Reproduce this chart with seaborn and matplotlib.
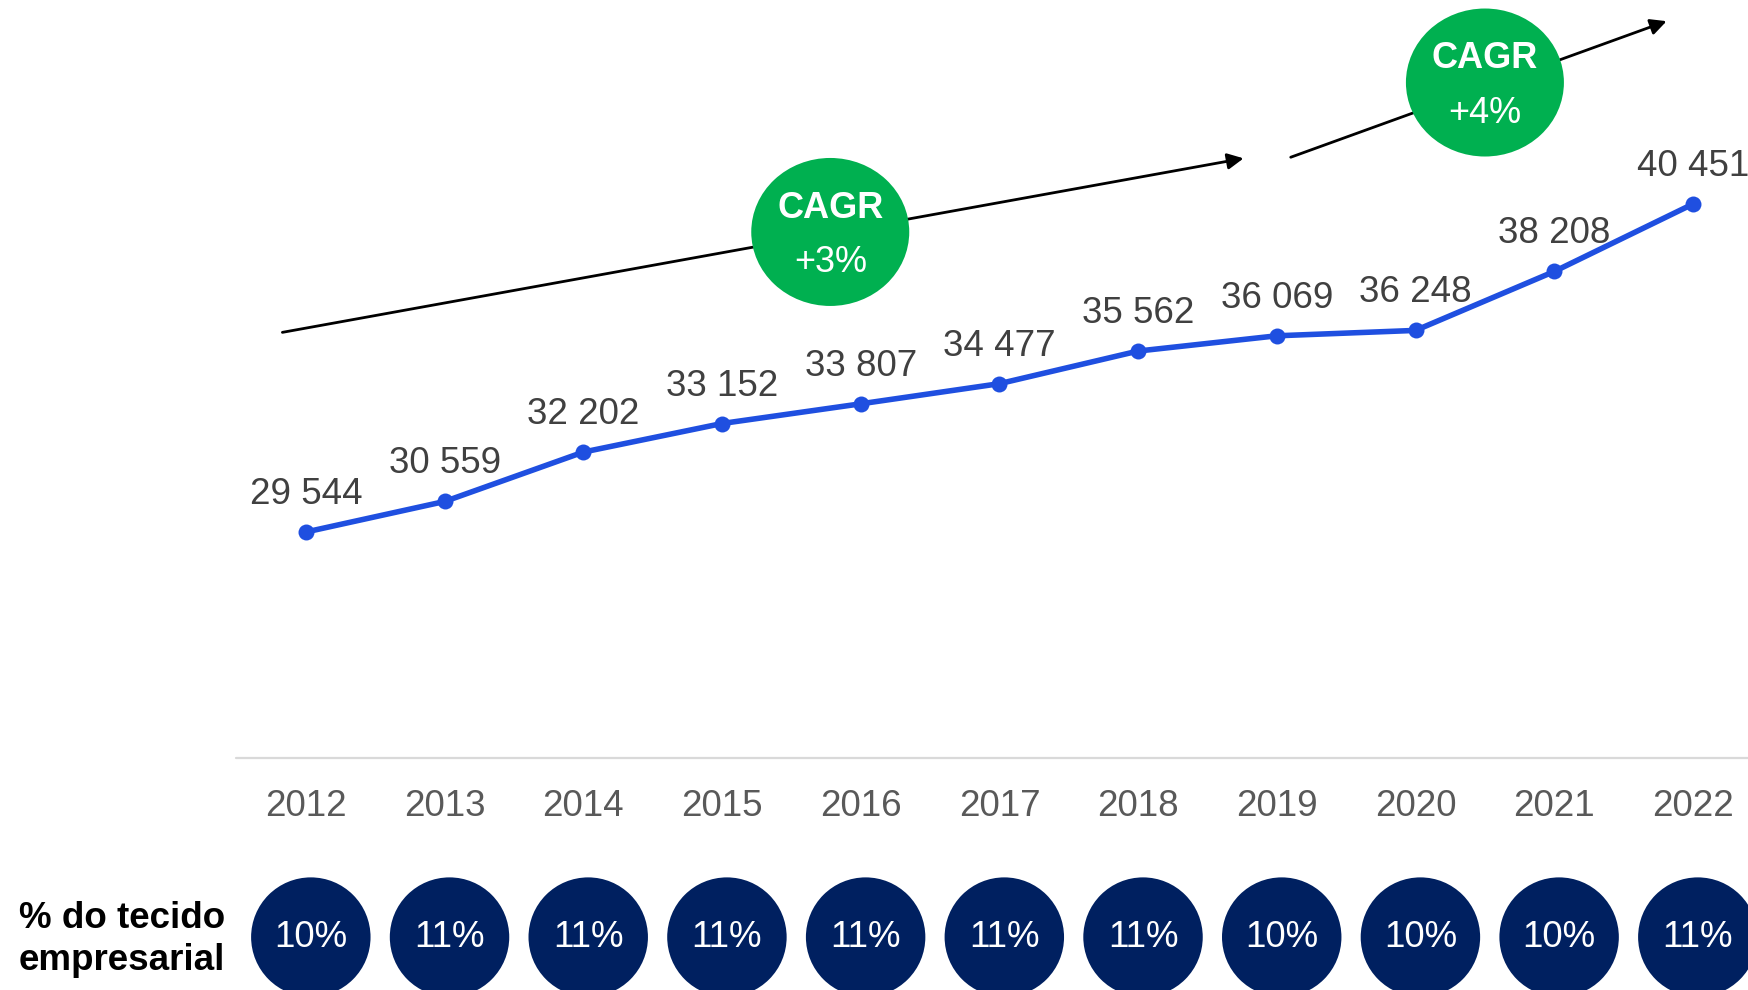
import pandas as pd
import matplotlib
matplotlib.use("Agg")
import matplotlib.pyplot as plt
import matplotlib.transforms as mtransforms
from matplotlib.patches import Ellipse
import seaborn as sns

# ----------------------------------------------------------
# Données
# ----------------------------------------------------------

years = [2012, 2013, 2014, 2015, 2016, 2017, 2018, 2019, 2020, 2021, 2022]
empresas = [29544, 30559, 32202, 33152, 33807, 34477, 35562, 36069, 36248, 38208, 40451]
pct_tecido = [10, 11, 11, 11, 11, 11, 11, 10, 10, 10, 11]

cagr_labels = ["+3%", "+4%"]

df = pd.DataFrame({"ano": years, "empresas": empresas, "pct": pct_tecido})

# ----------------------------------------------------------
# Style
# ----------------------------------------------------------

sns.set_theme(style="white")
plt.rcParams["font.family"] = ["Liberation Sans", "DejaVu Sans"]

BLUE = "#1f4fe0"
GREEN = "#00b050"
NAVY = "#002060"
FS = 26.5

W, H = 1749, 990
fig = plt.figure(figsize=(W / 100, H / 100), dpi=100)

axis_px = 758
ax = fig.add_axes([0, 1 - axis_px / H, 1, axis_px / H])
ax2 = fig.add_axes([0, 0, 1, 1 - axis_px / H], sharex=ax)

# ----------------------------------------------------------
# Courbe
# ----------------------------------------------------------

sns.lineplot(data=df, x="ano", y="empresas", ax=ax, color=BLUE,
             linewidth=4, marker="o", markersize=11.5,
             markeredgewidth=0, zorder=3)

ax.set_xlim(2009.794, 2022.404)
ax.set_ylim(22028, 47236)

for x, y in zip(df["ano"], df["empresas"]):
    ax.annotate(f"{y:,}".replace(",", " "), (x, y), xytext=(0, 27),
                textcoords="offset points", ha="center", va="center",
                fontsize=FS, color="#404040", annotation_clip=False)

# axe horizontal
ax.axhline(22028, xmin=236 / W, xmax=1, color="#d9d9d9", lw=1.6,
           clip_on=False)

for x in years:
    ax.annotate(str(x), (x, 0), xycoords=("data", "axes fraction"),
                xytext=(0, -35), textcoords="offset points",
                ha="center", va="center", fontsize=FS, color="#595959",
                annotation_clip=False)

ax.axis("off")

# ----------------------------------------------------------
# Flèches CAGR
# ----------------------------------------------------------

ax.annotate("", xy=(2018.76, 41970), xytext=(2011.83, 36183),
            arrowprops=dict(arrowstyle="-|>", color="black", lw=2,
                            mutation_scale=24, shrinkA=0, shrinkB=0),
            zorder=1, annotation_clip=False)
ax.annotate("", xy=(2021.81, 46532), xytext=(2019.10, 42007),
            arrowprops=dict(arrowstyle="-|>", color="black", lw=2,
                            mutation_scale=24, shrinkA=0, shrinkB=0),
            zorder=1, annotation_clip=False)

badges = [(2015.78, 39522), (2020.50, 44492)]
for (bx, by), lab in zip(badges, cagr_labels):
    cx, cy = ax.transData.transform((bx, by))
    e = Ellipse((cx, cy), width=158, height=148, facecolor=GREEN,
                edgecolor="none", zorder=4,
                transform=mtransforms.IdentityTransform(), clip_on=False)
    ax.add_artist(e)
    ax.annotate("CAGR", (bx, by), xytext=(0, 17), textcoords="offset points",
                ha="center", va="center", fontsize=FS - 0.5,
                fontweight="bold", color="white", zorder=5,
                annotation_clip=False)
    ax.annotate(lab, (bx, by), xytext=(0, -22), textcoords="offset points",
                ha="center", va="center", fontsize=FS - 0.5, color="white",
                zorder=5, annotation_clip=False)

# ----------------------------------------------------------
# % do tecido empresarial
# ----------------------------------------------------------

ax2.set_ylim(0, 1)
row_y = 0.228
ax2.scatter([x + 0.035 for x in df["ano"]], [row_y] * len(years),
            s=86 ** 2, color=NAVY, edgecolor="none", clip_on=False)
for x, p in zip(df["ano"], df["pct"]):
    ax2.text(x + 0.035, row_y, f"{p}%", ha="center", va="center",
             fontsize=FS, color="white")

ax2.text(225 / W, row_y - 0.009, "% do tecido\nempresarial",
         transform=ax2.transAxes, ha="right", va="center", fontsize=FS,
         fontweight="bold", color="black", linespacing=1.27)
ax2.axis("off")

fig.savefig("out.png", dpi=100)
